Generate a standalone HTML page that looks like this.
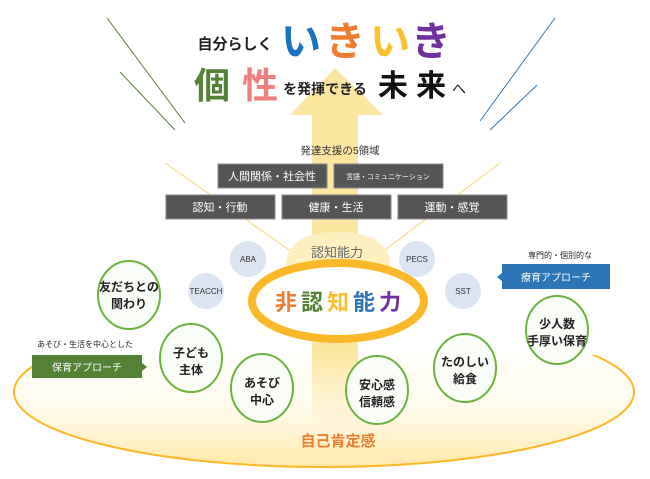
<!DOCTYPE html>
<html><head><meta charset="utf-8"><style>
body{margin:0;background:#fff}
svg{display:block}
text{font-family:"Liberation Sans","Noto Sans CJK JP",sans-serif}
</style></head><body>
<svg width="650" height="479" viewBox="0 0 650 479" xmlns="http://www.w3.org/2000/svg">
<defs>
<linearGradient id="bg" x1="0" y1="0" x2="0" y2="1">
<stop offset="0" stop-color="#fff6d6" stop-opacity="0"/>
<stop offset="0.55" stop-color="#fff3cc" stop-opacity="0.3"/>
<stop offset="1" stop-color="#ffe9a8"/>
</linearGradient>
<linearGradient id="shaft" x1="0" y1="0" x2="0" y2="1">
<stop offset="0" stop-color="#fde7a0"/>
<stop offset="0.75" stop-color="#fde7a0"/>
<stop offset="1" stop-color="#fff6dd" stop-opacity="0.5"/>
</linearGradient>
<clipPath id="cl"><rect x="0" y="355" width="650" height="124"/></clipPath>
</defs>
<!-- rays -->
<line x1="107" y1="18" x2="185" y2="123" stroke="#548235" stroke-width="1"/>
<line x1="120" y1="72" x2="175" y2="130" stroke="#548235" stroke-width="1"/>
<line x1="555" y1="18" x2="480" y2="121" stroke="#2e75b6" stroke-width="1"/>
<line x1="537" y1="85" x2="490" y2="130" stroke="#2e75b6" stroke-width="1"/>
<!-- bottom ellipse -->
<g clip-path="url(#cl)">
<ellipse cx="324" cy="392" rx="310" ry="75" fill="url(#bg)" stroke="#fbb829" stroke-width="2"/>
</g>
<!-- arrow -->
<polygon points="335,68 383,115 290,115" fill="#fde7a0"/>
<rect x="312" y="114" width="46" height="320" fill="url(#shaft)"/>
<!-- yellow thin lines -->
<line x1="165" y1="163" x2="292" y2="252" stroke="#fbd56b" stroke-width="1"/>
<line x1="500" y1="163" x2="385" y2="250" stroke="#fbd56b" stroke-width="1"/>
<!-- dome -->
<path d="M286,280 L286,262 Q290,232 337,232 Q386,232 390,262 L390,280 Z" fill="#fff0c0"/>
<text x="337" y="257" font-size="13" fill="#666" text-anchor="middle">認知能力</text>
<!-- titles -->
<text x="235" y="49" font-size="15" font-weight="bold" fill="#222" text-anchor="middle">自分らしく</text>
<text x="301" y="55" font-size="40" font-weight="bold" fill="#1a73c1" text-anchor="middle">い</text>
<text x="345" y="55" font-size="40" font-weight="bold" fill="#ed7d31" text-anchor="middle">き</text>
<text x="390" y="55" font-size="40" font-weight="bold" fill="#fbc02d" text-anchor="middle">い</text>
<text x="431" y="55" font-size="40" font-weight="bold" fill="#7030a0" text-anchor="middle">き</text>
<text x="212" y="98" font-size="36" font-weight="bold" fill="#548235" text-anchor="middle">個</text>
<text x="260" y="98" font-size="36" font-weight="bold" fill="#f08080" text-anchor="middle">性</text>
<text x="325" y="94" font-size="14" font-weight="bold" fill="#222" text-anchor="middle">を発揮できる</text>
<text x="412" y="96" font-size="30" font-weight="bold" fill="#111" text-anchor="middle">未 来</text>
<text x="459" y="94" font-size="14" fill="#222" text-anchor="middle">へ</text>
<text x="340" y="154" font-size="10.5" fill="#333" text-anchor="middle">発達支援の5領域</text>
<!-- boxes -->
<g font-size="11" fill="#fff" text-anchor="middle">
<rect x="218" y="164" width="109" height="24" fill="#555" stroke="#888"/>
<text x="272" y="180">人間関係・社会性</text>
<rect x="334" y="164" width="109" height="24" fill="#555" stroke="#888"/>
<text x="388" y="179" font-size="7">言語・コミュニケーション</text>
<rect x="166" y="195" width="109" height="24" fill="#555" stroke="#888"/>
<text x="220" y="211">認知・行動</text>
<rect x="282" y="195" width="109" height="24" fill="#555" stroke="#888"/>
<text x="336" y="211">健康・生活</text>
<rect x="398" y="195" width="109" height="24" fill="#555" stroke="#888"/>
<text x="452" y="211">運動・感覚</text>
</g>
<!-- blue circles -->
<g fill="#dce4f2"><circle cx="248" cy="259" r="18"/><circle cx="206" cy="291" r="18"/><circle cx="417" cy="259" r="18"/><circle cx="463" cy="291" r="18"/></g>
<g font-size="8" fill="#333" text-anchor="middle">
<text x="248" y="262">ABA</text><text x="206" y="294">TEACCH</text><text x="417" y="262">PECS</text><text x="463" y="294">SST</text>
</g>
<!-- center ellipse -->
<ellipse cx="338" cy="301" rx="86" ry="38" fill="#fff" stroke="#fbb829" stroke-width="8"/>
<g font-size="22" font-weight="bold" text-anchor="middle">
<text x="286" y="310" fill="#ed7d31">非</text>
<text x="312" y="310" fill="#548235">認</text>
<text x="338" y="310" fill="#fbc02d">知</text>
<text x="364" y="310" fill="#2e75b6">能</text>
<text x="390" y="310" fill="#7030a0">力</text>
</g>
<!-- green circles -->
<g fill="#fafcf8" stroke="#6db33f" stroke-width="2">
<ellipse cx="129" cy="295" rx="31" ry="34"/>
<ellipse cx="191" cy="358" rx="31" ry="34"/>
<ellipse cx="262" cy="388" rx="31" ry="34"/>
<ellipse cx="377" cy="390" rx="31" ry="34"/>
<ellipse cx="465" cy="368" rx="31" ry="34"/>
<ellipse cx="557" cy="330" rx="31" ry="34"/>
</g>
<g font-size="12" fill="#222" text-anchor="middle" font-weight="bold">
<text x="129" y="291">友だちとの</text><text x="129" y="308">関わり</text>
<text x="191" y="357">子ども</text><text x="191" y="374">主体</text>
<text x="262" y="387">あそび</text><text x="262" y="404">中心</text>
<text x="377" y="389">安心感</text><text x="377" y="406">信頼感</text>
<text x="465" y="366">たのしい</text><text x="465" y="383">給食</text>
<text x="557" y="328">少人数</text><text x="557" y="345">手厚い保育</text>
</g>
<!-- approach labels -->
<text x="85" y="347" font-size="8" fill="#222" text-anchor="middle">あそび・生活を中心とした</text>
<polygon points="32,355 142,355 142,363 147,367 142,371 142,378 32,378" fill="#548235"/>
<text x="87" y="371" font-size="10" fill="#fff" text-anchor="middle">保育アプローチ</text>
<text x="560" y="258" font-size="8" fill="#222" text-anchor="middle">専門的・個別的な</text>
<polygon points="502,264 610,264 610,289 502,289 502,281 497,277 502,273" fill="#2e75b6"/>
<text x="556" y="281" font-size="10" fill="#fff" text-anchor="middle">療育アプローチ</text>
<text x="338" y="446" font-size="15" fill="#ed7d31" text-anchor="middle" font-weight="bold">自己肯定感</text>
</svg>
</body></html>
